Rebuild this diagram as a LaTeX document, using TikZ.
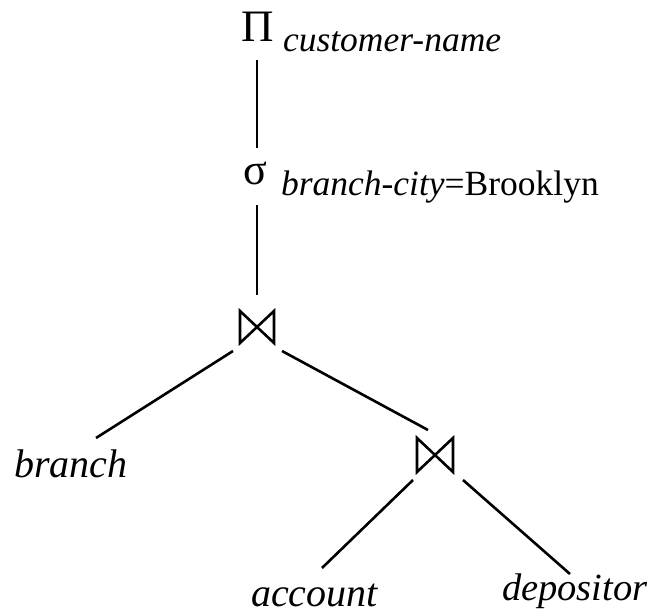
\documentclass[tikz,border=0pt]{standalone}
\usepackage{fontspec}
\setmainfont{Liberation Serif}
\usetikzlibrary{calc}
\tikzset{
  lbl/.style={anchor=base west, inner sep=0pt, outer sep=0pt},
  leaf/.style={lbl, font=\fontsize{40}{42}\selectfont\itshape},
  sub/.style={lbl, font=\fontsize{35.5}{38}\selectfont},
  opsym/.style={lbl, font=\fontsize{45}{48}\selectfont},
  joinbox/.style={minimum width=34pt, minimum height=32pt, inner sep=0pt, outer sep=0pt},
  edge/.style={line width=2.6pt},
  bowtie/.style={line width=2.6pt, line join=miter}
}
\begin{document}
\begin{tikzpicture}[x=1pt, y=-1pt]
  \useasboundingbox (0,0) rectangle (651,615);

  % projection
  \node[opsym] (P) at (241,42) {Π};
  \node[sub] (Ps) at (283,52) {\itshape customer-name};

  % selection
  \node[opsym, font=\fontsize{44}{46}\selectfont] (S) at (243,185) {σ};
  \node[sub] (Ss) at (281,196) {\textit{branch-city}=Brooklyn};

  % joins
  \node[joinbox] (J1) at (257,327) {};
  \node[joinbox, minimum width=36pt, minimum height=34pt] (J2) at (435,455) {};
  \foreach \j in {J1,J2}
    \draw[bowtie] (\j.north west) -- (\j.south east) -- (\j.north east) -- (\j.south west) -- cycle;

  % relations
  \node[leaf] (branch) at (14,477) {branch};
  \node[leaf] (account) at (251,606) {account};
  \node[leaf, font=\fontsize{38.5}{40}\selectfont\itshape] (depositor) at (502,600) {depositor};

  % tree edges
  \draw[edge] ($(P.base west)+(16,18)$) -- ($(S.base west)+(14,-37)$);
  \draw[edge] ($(S.base west)+(14,20)$) -- ($(J1.center)+(0,-32)$);
  \draw[edge] ($(J1.center)+(-24,24)$) -- ($(branch.base west)+(82,-39)$);
  \draw[edge] ($(J1.center)+(25,24)$) -- ($(J2.center)+(-7,-25)$);
  \draw[edge] ($(J2.center)+(-22,25)$) -- ($(account.base west)+(71,-38)$);
  \draw[edge] ($(J2.center)+(28,25)$) -- ($(depositor.base west)+(68,-26)$);
\end{tikzpicture}
\end{document}
